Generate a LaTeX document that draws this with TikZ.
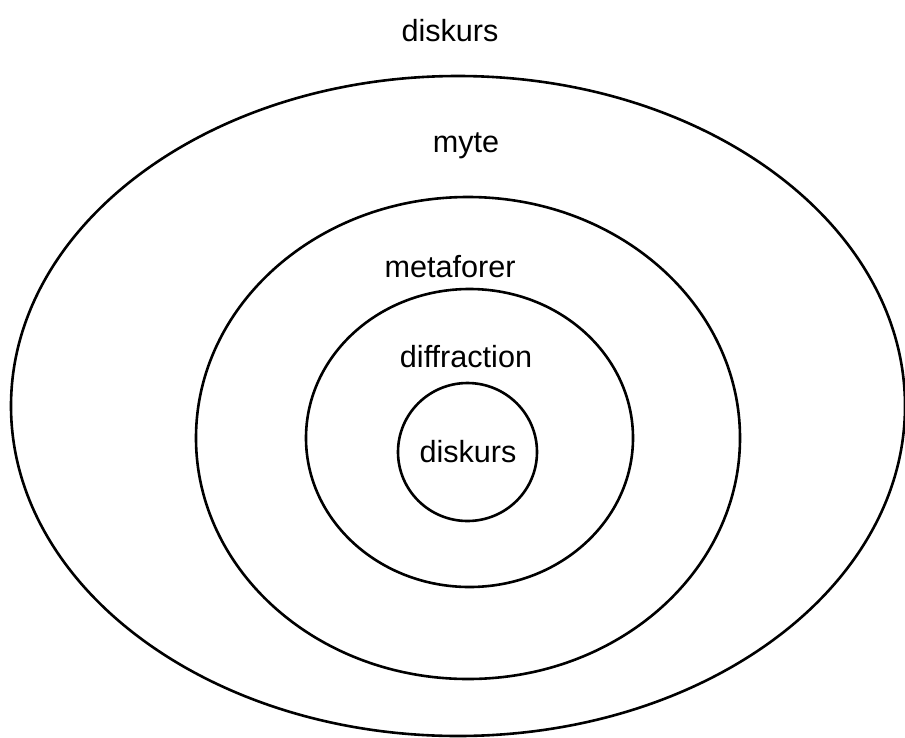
\documentclass[tikz,border=0pt]{standalone}
\usepackage{fontspec}
\setmainfont{Liberation Sans}
\begin{document}
\begin{tikzpicture}[x=1pt,y=-1pt,
  ring/.style={draw=black,line width=2.6pt},
  lbl/.style={anchor=base,inner sep=0pt,font=\fontsize{30.6}{36}\selectfont}]
  \useasboundingbox[fill=white] (0,0) rectangle (905,737);
  % centres of the nested rings
  \coordinate (c1) at (458,406);
  \coordinate (c2) at (468,438);
  \coordinate (c3) at (469.5,438);
  \coordinate (c4) at (467.5,452);
  \draw[ring] (c1) ellipse [x radius=447, y radius=330];
  \draw[ring] (c2) ellipse [x radius=272, y radius=241];
  \draw[ring] (c3) ellipse [x radius=163.5, y radius=149];
  \draw[ring] (c4) ellipse [x radius=69.5, y radius=69];
  % labels, one per ring
  \node[lbl] (outer) at (450,41) {diskurs};
  \node[lbl] (myte) at (466,152) {myte};
  \node[lbl] (meta) at (450,277) {metaforer};
  \node[lbl] (diff) at (466,367) {diffraction};
  \node[lbl] (inner) at (468,462) {diskurs};
\end{tikzpicture}
\end{document}
